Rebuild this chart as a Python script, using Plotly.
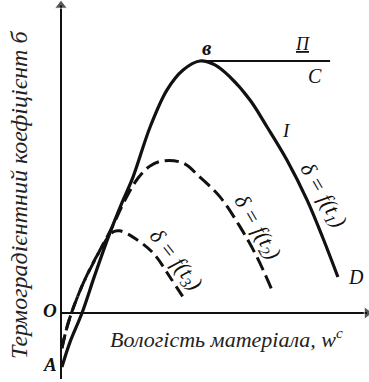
import plotly.graph_objects as go

# curve I, delta = f(t1): moisture w, coefficient delta (chart units)
w_t1 = [0.03, 0.30, 0.70, 1.13, 1.63, 2.03, 2.40, 2.97, 3.53, 4.07, 4.63,
        5.13, 5.63, 6.30, 6.87, 7.53, 8.20, 8.73, 9.23]
d_t1 = [-1.80, -0.97, 0.00, 1.27, 2.67, 3.67, 4.53, 6.20, 7.43, 8.10, 8.40,
        8.27, 7.87, 7.10, 6.20, 5.10, 3.77, 2.50, 1.20]

# horizontal branch B - C
w_bc = [4.63, 8.97]
d_bc = [8.40, 8.40]

# delta = f(t2)
w_t2 = [0.03, 0.25, 0.70, 1.25, 1.70, 2.10, 2.57, 2.97, 3.40, 4.07, 4.63,
        5.30, 5.97, 6.53, 7.03]
d_t2 = [-1.17, -0.30, 0.90, 2.00, 2.85, 3.70, 4.50, 4.90, 5.07, 5.00, 4.53,
        3.87, 2.87, 1.87, 0.77]

# delta = f(t3)
w_t3 = [0.03, 0.25, 0.70, 1.25, 1.73, 1.95, 2.40, 3.07, 3.63, 4.07]
d_t3 = [-1.17, -0.30, 0.90, 2.00, 2.70, 2.74, 2.53, 2.00, 1.20, 0.53]

# axes (chart units)
x_axis_w = [0, 10.2]
y_axis_d = [-2.2, 10.25]

x_title = "Вологість матеріала, w<sup>c</sup>"
y_title = "Термоградієнтний коефіцієнт б"

SERIF = "Liberation Serif"
INK = "#111"
fig = go.Figure()

# axis lines with arrow heads at their ends
fig.add_trace(go.Scatter(x=x_axis_w, y=[0, 0], mode="lines+markers",
                         line=dict(color=INK, width=2),
                         marker=dict(symbol="triangle-right", size=[0, 11], color=INK)))
fig.add_trace(go.Scatter(x=[0, 0], y=y_axis_d, mode="lines+markers",
                         line=dict(color=INK, width=2),
                         marker=dict(symbol="triangle-up", size=[0, 11], color=INK)))

fig.add_trace(go.Scatter(x=w_t2, y=d_t2, mode="lines", line_shape="spline",
                         line=dict(color=INK, width=3, dash="14px,6px")))
fig.add_trace(go.Scatter(x=w_t3, y=d_t3, mode="lines", line_shape="spline",
                         line=dict(color=INK, width=3, dash="12px,6px")))
fig.add_trace(go.Scatter(x=w_t1, y=d_t1, mode="lines", line_shape="spline",
                         line=dict(color=INK, width=3.2)))
fig.add_trace(go.Scatter(x=w_bc, y=d_bc, mode="lines",
                         line=dict(color=INK, width=2)))

labels = [
    ("<b><i>в</i></b>", 4.87, 8.85, 0, 21),
    ("<i><u>П</u></i>", 8.05, 8.97, 0, 18),
    ("<i>C</i>", 8.45, 7.90, 0, 20),
    ("<i>I</i>", 7.53, 6.10, 0, 19),
    ("<i>D</i>", 9.83, 1.20, 0, 20),
    ("<i><b>O</b></i>", -0.37, 0.10, 0, 19),
    ("<i><b>A</b></i>", -0.37, -1.70, 0, 19),
    ("<i>δ = f(t<sub>1</sub>)</i>", 8.73, 3.90, 60, 22),
    ("<i>δ = f(t<sub>2</sub>)</i>", 6.53, 2.83, 60, 22),
    ("<i>δ = f(t<sub>3</sub>)</i>", 3.80, 1.77, 52, 22),
]
annotations = []
for txt, x, y, ang, size in labels:
    annotations.append(dict(text=txt, x=x, y=y, xref="x", yref="y", showarrow=False,
                            textangle=ang, font=dict(family=SERIF, size=size, color=INK)))

annotations.append(dict(text="<i>" + x_title + "</i>", x=5.53, y=-0.82, xref="x", yref="y",
                        showarrow=False, font=dict(family=SERIF, size=22, color="#222")))
annotations.append(dict(text="<i>" + y_title + "</i>", x=-1.40, y=3.93, xref="x", yref="y",
                        showarrow=False, textangle=-90,
                        font=dict(family=SERIF, size=24, color="#222")))

fig.update_layout(
    width=369, height=382,
    margin=dict(l=0, r=0, t=0, b=0),
    paper_bgcolor="white", plot_bgcolor="white",
    showlegend=False,
    xaxis=dict(range=[-2.0333, 10.2667], visible=False),
    yaxis=dict(range=[-2.3, 10.4333], visible=False),
    annotations=annotations,
)

fig.write_html("out.html", config={"displayModeBar": False},
               post_script="document.body.style.margin='0';")
